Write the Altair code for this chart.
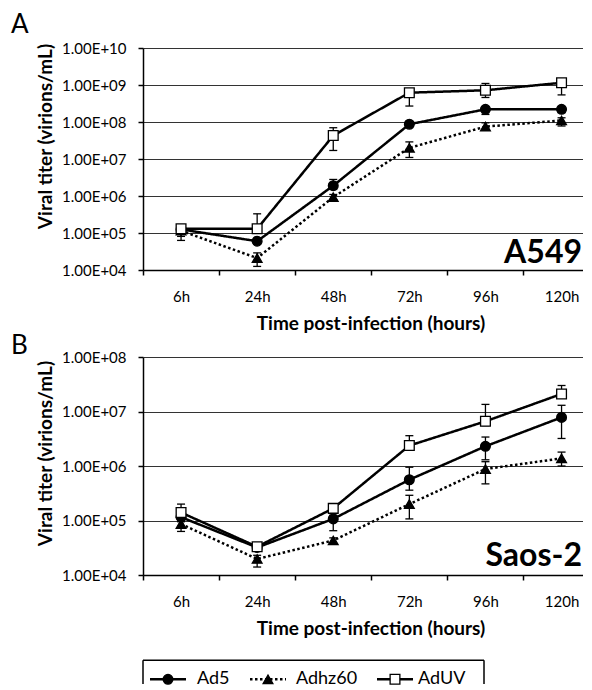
import json
import altair as alt
import pandas as pd

# ---------------- data ----------------
times = ["6h", "24h", "48h", "72h", "96h", "120h"]
series = ["Ad5", "Adhz60", "AdUV"]

# Panel A: A549
a549_ad5 = [1.25e5, 6.0e4, 1.9e6, 8.7e7, 2.2e8, 2.2e8]
a549_ad5_lo = [8.1e4, 5.0e4, 1.5e6, 7.5e7, 1.6e8, 1.8e8]
a549_ad5_hi = [1.4e5, 7.0e4, 2.8e6, 1.0e8, 2.6e8, 2.6e8]
a549_hz = [1.15e5, 2.1e4, 9.3e5, 2.0e7, 7.5e7, 1.1e8]
a549_hz_lo = [6.3e4, 1.25e4, 8.0e5, 1.1e7, 6.0e7, 7.8e7]
a549_hz_hi = [1.25e5, 2.9e4, 1.1e6, 2.9e7, 9.5e7, 1.3e8]
a549_uv = [1.3e5, 1.3e5, 4.3e7, 6.2e8, 7.2e8, 1.15e9]
a549_uv_lo = [1.0e5, 1.1e5, 1.7e7, 2.7e8, 4.6e8, 5.4e8]
a549_uv_hi = [1.45e5, 3.3e5, 7.0e7, 7.5e8, 1.1e9, 1.3e9]

# Panel B: Saos-2
saos_ad5 = [1.15e5, 3.2e4, 1.07e5, 5.6e5, 2.3e6, 7.8e6]
saos_ad5_lo = [1.0e5, 2.8e4, 6.5e4, 3.6e5, 1.3e6, 3.2e6]
saos_ad5_hi = [1.3e5, 3.6e4, 1.25e5, 9.5e5, 3.4e6, 1.3e7]
saos_hz = [8.6e4, 1.97e4, 4.3e4, 2.0e5, 8.8e5, 1.38e6]
saos_hz_lo = [6.3e4, 1.4e4, 3.8e4, 1.07e5, 4.7e5, 1.0e6]
saos_hz_hi = [9.5e4, 2.3e4, 4.8e4, 2.9e5, 1.2e6, 1.8e6]
saos_uv = [1.4e5, 3.3e4, 1.67e5, 2.37e6, 6.6e6, 2.1e7]
saos_uv_lo = [1.2e5, 3.0e4, 1.5e5, 2.0e6, 5.5e6, 1.9e7]
saos_uv_hi = [2.0e5, 3.6e4, 1.8e5, 3.6e6, 1.35e7, 3.0e7]


def make_df(groups):
    rows = []
    for s, (m, lo, hi) in zip(series, groups):
        for i, t in enumerate(times):
            rows.append(dict(series=s, idx=i, time=t, v=m[i], lo=lo[i], hi=hi[i]))
    return pd.DataFrame(rows)


dfA = make_df([(a549_ad5, a549_ad5_lo, a549_ad5_hi),
               (a549_hz, a549_hz_lo, a549_hz_hi),
               (a549_uv, a549_uv_lo, a549_uv_hi)])
dfB = make_df([(saos_ad5, saos_ad5_lo, saos_ad5_hi),
               (saos_hz, saos_hz_lo, saos_hz_hi),
               (saos_uv, saos_uv_lo, saos_uv_hi)])

# ---------------- styling ----------------
FONT = "Lato"
UNIT = 76.1
W = 440
XDOM = [-0.5, -0.5 + W / UNIT]
LABEL_EXPR = json.dumps(times) + "[round(datum.value)]"
YLAB = ("'1.00E+' + (round(log(datum.value)/LN10) < 10 ? '0' : '') "
        "+ round(log(datum.value)/LN10)")
DASHES = [[1, 0], [2.5, 2.5], [1, 0]]
SHAPES = ["circle", "triangle-up", "square"]
FILLS = ["black", "black", "white"]


def panel(df, ymax_exp, H, letter, letter_y, cell, cell_y, title_y, legend=False):
    ydom = [1e4, 10 ** ymax_exp]
    yvals = [10 ** k for k in range(4, ymax_exp + 1)]
    xax = alt.Axis(values=list(range(6)), labelExpr=LABEL_EXPR,
                   title="Time post-infection (hours)", titleX=227.5, titleAlign="center",
                   tickOffset=-UNIT / 2, labelOffset=UNIT / 2, grid=False,
                   tickSize=5, tickWidth=1.5, tickColor="black",
                   domainColor="black", domainWidth=1.5,
                   labelPadding=14, labelFontSize=15, labelFont=FONT, labelColor="black",
                   titlePadding=10, titleFontSize=19, titleFont=FONT, titleFontWeight="bold",
                   titleColor="black")
    yax = alt.Axis(values=yvals, labelExpr=YLAB, title="Viral titer (virions/mL)",
                   titleY=title_y, grid=True, gridColor="#333333", gridWidth=1,
                   tickSize=5, tickWidth=1.5, tickColor="black",
                   domainColor="black", domainWidth=1.5,
                   labelPadding=12, labelFontSize=15, labelFont=FONT, labelColor="black",
                   titlePadding=6, titleFontSize=19, titleFont=FONT, titleFontWeight="bold",
                   titleColor="black")

    def X():
        return alt.X("idx:Q", scale=alt.Scale(domain=XDOM, nice=False, zero=False), axis=xax)

    def Y(f):
        return alt.Y(f"{f}:Q", scale=alt.Scale(type="log", domain=ydom, nice=False), axis=yax)

    base = alt.Chart(df)
    lines = base.mark_line(color="black", strokeWidth=2.5).encode(
        x=X(), y=Y("v"), detail="series:N",
        strokeDash=alt.StrokeDash("series:N", scale=alt.Scale(domain=series, range=DASHES),
                                  legend=None))
    err = base.mark_rule(color="black", strokeWidth=1.3).encode(x=X(), y=Y("lo"), y2="hi:Q")
    cap_lo = base.mark_tick(orient="horizontal", color="black", size=8, thickness=1.3,
                            opacity=1).encode(x=X(), y=Y("lo"))
    cap_hi = base.mark_tick(orient="horizontal", color="black", size=8, thickness=1.3,
                            opacity=1).encode(x=X(), y=Y("hi"))
    pts = base.mark_point(filled=True, stroke="black", strokeWidth=1.3, size=95,
                          opacity=1).encode(
        x=X(), y=Y("v"),
        shape=alt.Shape("series:N", scale=alt.Scale(domain=series, range=SHAPES), legend=None),
        fill=alt.Fill("series:N", scale=alt.Scale(domain=series, range=FILLS), legend=None))

    letter_t = alt.Chart(pd.DataFrame({"t": [letter]})).mark_text(
        align="left", baseline="alphabetic", font=FONT, fontSize=26, color="black").encode(
        text="t:N", x=alt.value(-132), y=alt.value(letter_y))
    cell_t = alt.Chart(pd.DataFrame({"t": [cell]})).mark_text(
        align="right", baseline="alphabetic", font=FONT, fontSize=32, fontWeight="bold",
        color="black").encode(text="t:N", x=alt.value(W - 1), y=alt.value(cell_y))

    layers = [lines, err, cap_lo, cap_hi, pts, letter_t, cell_t]

    if legend:
        leg_top = H + 85.3
        leg_bot = H + 109
        leg_y = H + 104.3
        leg_w = 341
        sym_x = [25, 125, 252]
        txt_x = [54, 153, 275]
        one = pd.DataFrame({"k": [0]})
        layers += [
            alt.Chart(one).mark_rule(color="black", strokeWidth=1.5).encode(
                x=alt.value(0), x2=alt.value(leg_w), y=alt.value(leg_top)),
            alt.Chart(one).mark_rule(color="black", strokeWidth=1.5).encode(
                x=alt.value(0), y=alt.value(leg_top), y2=alt.value(leg_bot)),
            alt.Chart(one).mark_rule(color="black", strokeWidth=1.5).encode(
                x=alt.value(leg_w), y=alt.value(leg_top), y2=alt.value(leg_bot)),
        ]
        for i, s in enumerate(series):
            d = pd.DataFrame({"series": [s]})
            layers += [
                alt.Chart(d).mark_rule(color="black", strokeWidth=2.5, strokeDash=DASHES[i]).encode(
                    x=alt.value(sym_x[i] - 18), x2=alt.value(sym_x[i] + 18), y=alt.value(leg_y)),
                alt.Chart(d).mark_point(shape=SHAPES[i], filled=True, fill=FILLS[i],
                                        stroke="black", strokeWidth=1.3, size=95,
                                        opacity=1).encode(
                    x=alt.value(sym_x[i]), y=alt.value(leg_y)),
                alt.Chart(d).mark_text(align="left", baseline="middle", font=FONT, fontSize=18,
                                       color="black").encode(
                    text="series:N", x=alt.value(txt_x[i]), y=alt.value(leg_y)),
            ]

    return alt.layer(*layers).properties(width=W, height=H)


top = panel(dfA, 10, 222, "A", -15.5, "A549", 215, 88)
bottom = panel(dfB, 8, 218, "B", -3, "Saos-2", 209, 96, legend=True)

chart = alt.vconcat(top, bottom, spacing=0).properties(
    padding={"left": 3, "top": 3, "right": 0, "bottom": 0}
).configure_view(stroke=None)

chart.save("out.html", embed_options={"renderer": "svg", "actions": False})
